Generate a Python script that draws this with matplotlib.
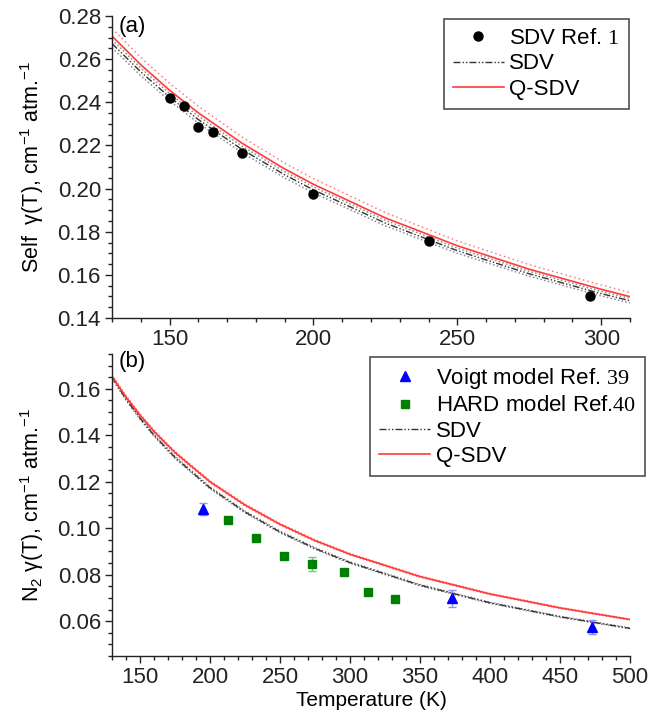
import matplotlib
matplotlib.use("Agg")
import matplotlib.pyplot as plt
import numpy as np
from matplotlib.ticker import MultipleLocator, FormatStrFormatter

plt.rcParams['font.family'] = ['Liberation Sans', 'DejaVu Sans']
plt.rcParams['mathtext.fontset'] = 'custom'
plt.rcParams['mathtext.rm'] = 'Liberation Serif'
plt.rcParams['mathtext.sf'] = 'Liberation Sans'
plt.rcParams['mathtext.it'] = 'Liberation Sans:italic'

# ---------------- Panel (a): self broadening ----------------
a_ref_T = [150, 155, 160, 165, 175, 200, 240, 296]
a_ref_g = [0.242, 0.2385, 0.2285, 0.226, 0.2165, 0.1975, 0.1755, 0.1500]

a_curve_T = [130, 140, 150, 160, 175, 190, 200, 225, 250, 275, 300, 310]
a_qsdv = [0.2707, 0.2574, 0.2456, 0.2351, 0.2212, 0.2091, 0.2020, 0.1864, 0.1735, 0.1626, 0.1533, 0.1499]
a_sdv = [0.2672, 0.2541, 0.2424, 0.2320, 0.2183, 0.2064, 0.1994, 0.1840, 0.1712, 0.1605, 0.1513, 0.1480]
a_qsdv_rel_unc = 0.013
a_sdv_rel_unc = 0.007

# ---------------- Panel (b): N2 broadening ----------------
b_voigt_T = [195, 373, 473]
b_voigt_g = [0.1083, 0.0698, 0.0575]
b_voigt_err = [0.0025, 0.0035, 0.003]

b_hard_T = [213, 233, 253, 273, 296, 313, 332]
b_hard_g = [0.1036, 0.0960, 0.0882, 0.0845, 0.0810, 0.0724, 0.0694]
b_hard_err = [0.0, 0.0, 0.0, 0.003, 0.0, 0.0, 0.0]

b_curve_T = [130, 140, 150, 160, 175, 200, 225, 250, 275, 300, 350, 400, 450, 500]
b_qsdv = [0.1654, 0.1565, 0.1487, 0.1417, 0.1326, 0.1200, 0.1100, 0.1017, 0.0947, 0.0888, 0.0792, 0.0717, 0.0657, 0.0607]
b_sdv = [0.1650, 0.1556, 0.1474, 0.1400, 0.1305, 0.1174, 0.1070, 0.0984, 0.0913, 0.0852, 0.0755, 0.0679, 0.0619, 0.0569]
b_qsdv_rel_unc = 0.004
b_sdv_rel_unc = 0.004

RED = '#ff3b3b'
RED_L = '#ff7a7a'
DARK = '#333333'
GRAY = '#8a8a8a'
TICK_FS = 16
YLAB_FS = 15.5
XLAB_FS = 15
LEG_FS = 16

fig = plt.figure(figsize=(6.49, 7.17), dpi=100)
ax1 = fig.add_axes([112/649, 1-318/717, 518/649, 302/717])
ax2 = fig.add_axes([112/649, 1-656/717, 518/649, 302/717])

sdv_dash = (0, (5, 1.5, 1, 1.5, 1, 1.5))

def style(ax):
    ax.spines['top'].set_visible(False)
    ax.spines['right'].set_visible(False)
    for s in ('left', 'bottom'):
        ax.spines[s].set_linewidth(1.0)
        ax.spines[s].set_color('#222222')
    ax.tick_params(which='major', direction='out', length=5, width=1, labelsize=TICK_FS,
                   colors='#222222', pad=3)
    ax.tick_params(which='minor', direction='out', length=3, width=1, colors='#222222')
    ax.yaxis.set_major_formatter(FormatStrFormatter('%.2f'))

def make_legend(ax, handles, anchor):
    leg = ax.legend(handles=handles, loc='upper right', bbox_to_anchor=anchor,
                    bbox_transform=fig.transFigure, fontsize=LEG_FS, frameon=True,
                    fancybox=False, edgecolor='#222222', handlelength=2.3,
                    handletextpad=0.25, borderpad=0.4, labelspacing=0.2,
                    borderaxespad=0)
    leg.get_frame().set_linewidth(1.2)
    return leg

# Panel (a)
T = np.array(a_curve_T)
q = np.array(a_qsdv)
s = np.array(a_sdv)
ax1.plot(T, q * (1 + a_qsdv_rel_unc), color=RED_L, lw=1.1, ls=(0, (1, 2)))
ax1.plot(T, s * (1 + a_sdv_rel_unc), color=GRAY, lw=1.1, ls=(0, (1, 1.5)))
ax1.plot(T, s * (1 - a_sdv_rel_unc), color=GRAY, lw=1.1, ls=(0, (1, 1.5)))
l_sdv, = ax1.plot(T, s, color=DARK, lw=1.0, ls=sdv_dash, label='SDV')
l_q, = ax1.plot(T, q, color=RED, lw=1.2, label='Q-SDV')
l_ref, = ax1.plot(a_ref_T, a_ref_g, 'o', color='black', ms=6.5, ls='none',
                  label=r'SDV Ref. $\mathrm{1}$')
ax1.set_xlim(130, 310)
ax1.set_ylim(0.14, 0.28)
ax1.xaxis.set_major_locator(MultipleLocator(50))
ax1.xaxis.set_minor_locator(MultipleLocator(10))
ax1.yaxis.set_major_locator(MultipleLocator(0.02))
ax1.yaxis.set_minor_locator(MultipleLocator(0.005))
style(ax1)
ax1.set_ylabel(r'Self  γ(T), cm$^{\mathsf{-1}}$ atm.$^{\mathsf{-1}}$', fontsize=YLAB_FS, labelpad=8)
ax1.text(0.012, 1.0, '(a)', transform=ax1.transAxes, fontsize=LEG_FS, va='top', ha='left')
make_legend(ax1, [l_ref, l_sdv, l_q], (629/649, 1-19/717))

# Panel (b)
T2 = np.array(b_curve_T)
q2 = np.array(b_qsdv)
s2 = np.array(b_sdv)
ax2.plot(T2, q2 * (1 + b_qsdv_rel_unc), color=RED_L, lw=1.0, ls=(0, (1, 1.5)))
ax2.plot(T2, q2 * (1 - b_qsdv_rel_unc), color=RED_L, lw=1.0, ls=(0, (1, 1.5)))
ax2.plot(T2, s2 * (1 + b_sdv_rel_unc), color=GRAY, lw=1.0, ls=(0, (1, 1.5)))
ax2.plot(T2, s2 * (1 - b_sdv_rel_unc), color=GRAY, lw=1.0, ls=(0, (1, 1.5)))
m_sdv, = ax2.plot(T2, s2, color=DARK, lw=1.0, ls=sdv_dash, label='SDV')
m_q, = ax2.plot(T2, q2, color=RED, lw=1.2, label='Q-SDV')
ax2.errorbar(b_voigt_T, b_voigt_g, yerr=b_voigt_err, fmt='none', ecolor='#8f8fff',
             elinewidth=1, capsize=3)
ax2.errorbar(b_hard_T, b_hard_g, yerr=b_hard_err, fmt='none', ecolor='#7fbf7f',
             elinewidth=1, capsize=3)
m_v, = ax2.plot(b_voigt_T, b_voigt_g, '^', color='#0000ff', ms=7, ls='none',
                label=r'Voigt model Ref. $\mathrm{39}$')
m_h, = ax2.plot(b_hard_T, b_hard_g, 's', color='#008000', ms=5.5, ls='none',
                label=r'HARD model Ref.$\mathrm{40}$')
ax2.set_xlim(130, 500)
ax2.set_ylim(0.045, 0.175)
ax2.xaxis.set_major_locator(MultipleLocator(50))
ax2.xaxis.set_minor_locator(MultipleLocator(10))
ax2.yaxis.set_minor_locator(MultipleLocator(0.005))
ax2.set_yticks([0.06, 0.08, 0.10, 0.12, 0.14, 0.16])
style(ax2)
ax2.set_ylabel(r'N$_{\mathsf{2}}$ γ(T), cm$^{\mathsf{-1}}$ atm.$^{\mathsf{-1}}$', fontsize=YLAB_FS, labelpad=8)
ax2.set_xlabel('Temperature (K)', fontsize=XLAB_FS, labelpad=2)
ax2.text(0.012, 1.01, '(b)', transform=ax2.transAxes, fontsize=LEG_FS, va='top', ha='left')
make_legend(ax2, [m_v, m_h, m_sdv, m_q], (645/649, 1-357/717))

fig.savefig('out.png', dpi=100, facecolor='white')
